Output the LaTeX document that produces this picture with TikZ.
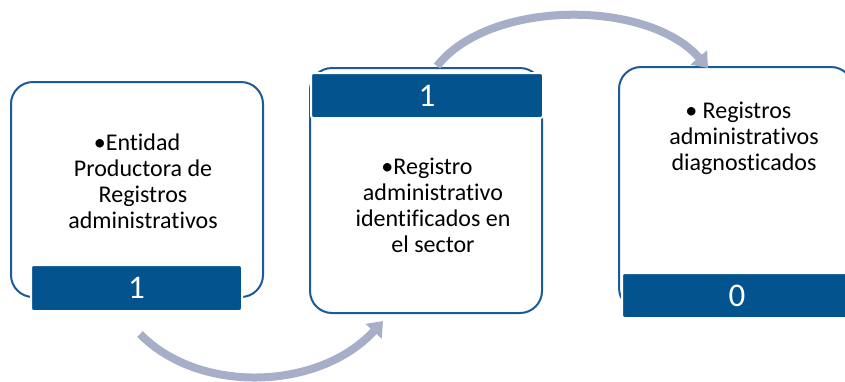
\documentclass[tikz,border=0pt]{standalone}
\usepackage{fontspec}
\setmainfont{Carlito}[Ligatures={NoCommon,NoContextual}]
\usetikzlibrary{arrows.meta}
\definecolor{barblue}{HTML}{03538F}
\definecolor{lineblue}{HTML}{1C5B98}
\definecolor{arrowgray}{HTML}{A7AEC8}
\tikzset{
  outlinebox/.style={draw=lineblue, line width=2pt, rounded corners=22pt, fill=white, inner sep=0pt},
  numbar/.style={draw=white, line width=2pt, fill=barblue, rounded corners=2.5pt, text=white, font=\fontsize{33}{34}\selectfont, inner sep=0pt},
  bodytext/.style={align=center, font=\fontsize{24}{26}\selectfont, inner sep=0pt, anchor=base},
  flowarrow/.style={draw=arrowgray, line width=8pt, -{Triangle[width=21pt,length=14pt]}}
}
\begin{document}
\begin{tikzpicture}[x=1pt,y=-1pt]
\clip (0,0) rectangle (845,381);
\fill[white] (0,0) rectangle (845,381);
% boxes
\node[outlinebox, minimum width=252pt, minimum height=215pt] (box1) at (137,189.5) {};
\node[outlinebox, minimum width=232pt, minimum height=245pt] (box2) at (426,190.5) {};
\node[outlinebox, minimum width=234pt, minimum height=243pt] (box3) at (736,188.5) {};
% bars
\node[numbar, minimum width=211pt, minimum height=46pt] (bar1) at (136.5,288) {1};
\node[numbar, minimum width=232pt, minimum height=45pt] (bar2) at (427,95.5) {1};
\node[numbar, minimum width=230pt, minimum height=45pt] (bar3) at (737,295.5) {0};
% texts (anchor base = baseline of the last line)
\node[bodytext] (t1) at (143,228) {\llap{•}Entidad\\Productora de\\Registros\\administrativos};
\node[bodytext] (t2) at (433,252) {\llap{•}Registro\\administrativo\\identificados en\\el sector};
\node[bodytext] (t3) at (744,170) {\hspace*{6pt}\llap{•\ }Registros\\administrativos\\diagnosticados};
% arrows
\coordinate (a1s) at (140,334);
\coordinate (a1e) at (383,321);
\coordinate (a2s) at (437,66);
\coordinate (a2e) at (708,68);
\draw[flowarrow] (a1s) .. controls (200,395) and (320,390) .. (a1e);
\draw[flowarrow] (a2s) .. controls (490,-1) and (648,-1) .. (a2e);
\end{tikzpicture}
\end{document}
